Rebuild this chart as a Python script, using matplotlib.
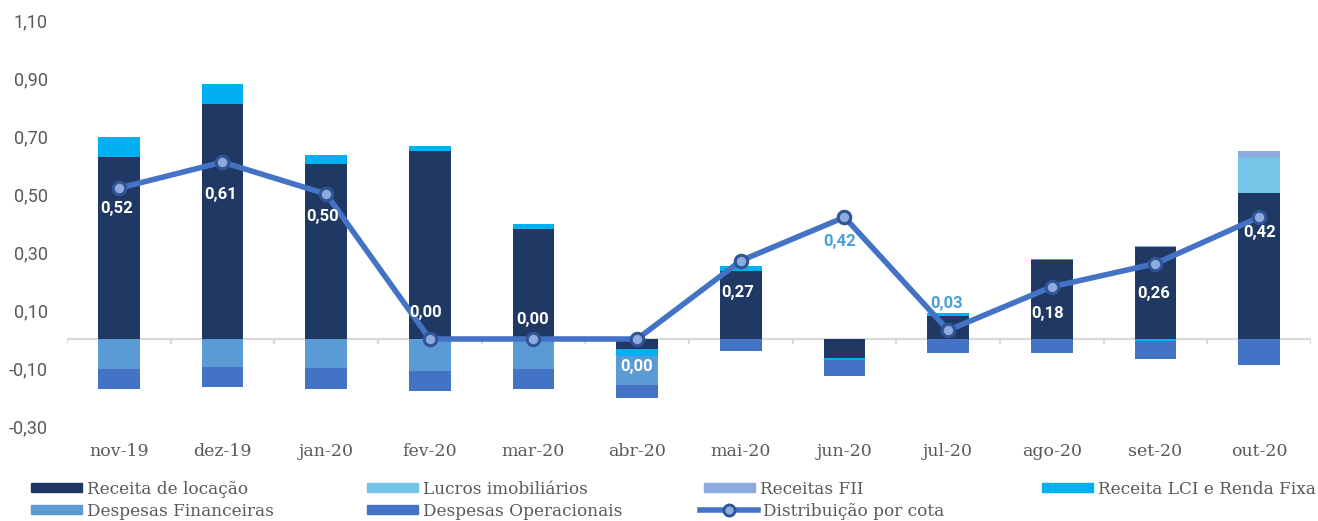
import numpy as np
import matplotlib
matplotlib.use("Agg")
import matplotlib.pyplot as plt
from matplotlib.patches import Patch
from matplotlib.lines import Line2D
from matplotlib.ticker import FuncFormatter

# dados (R$ por cota)
meses = ["nov-19", "dez-19", "jan-20", "fev-20", "mar-20", "abr-20",
         "mai-20", "jun-20", "jul-20", "ago-20", "set-20", "out-20"]
receita_locacao = [0.627, 0.812, 0.602, 0.647, 0.378, -0.036,
                   0.234, -0.065, 0.081, 0.273, 0.317, 0.503]
lucros_imobiliarios = [0, 0, 0, 0, 0, 0, 0, 0, 0, 0, 0, 0.124]
receitas_fii = [0, 0, 0, 0, 0, 0, 0, 0, 0, 0, 0.004, 0.022]
receita_lci = [0.068, 0.067, 0.034, 0.020, 0.019, -0.021,
               0.019, -0.007, 0.008, 0.004, -0.007, 0]
despesas_financeiras = [-0.105, -0.098, -0.101, -0.111, -0.105, -0.103,
                        0, 0, 0, 0, 0, 0]
despesas_operacionais = [-0.068, -0.067, -0.071, -0.067, -0.067, -0.045,
                         -0.040, -0.056, -0.048, -0.049, -0.061, -0.090]
distribuicao = [0.52, 0.61, 0.50, 0.00, 0.00, 0.00,
                0.27, 0.42, 0.03, 0.18, 0.26, 0.42]

series = [
    ("Receita de locação", receita_locacao, "#203864"),
    ("Lucros imobiliários", lucros_imobiliarios, "#75C5E6"),
    ("Receitas FII", receitas_fii, "#8FAADC"),
    ("Receita LCI e Renda Fixa", receita_lci, "#00B0F0"),
    ("Despesas Financeiras", despesas_financeiras, "#5B9BD5"),
    ("Despesas Operacionais", despesas_operacionais, "#4472C4"),
]

cinza = "#595959"
plt.rcParams["font.family"] = ["DejaVu Serif"]

W, H = 1318, 521
fig = plt.figure(figsize=(W / 100, H / 100), dpi=100)
ax = fig.add_axes([67 / W, 1 - 426 / H, (1311 - 67) / W, (426 - 20) / H])

x = np.arange(len(meses))
pos = np.zeros(len(meses))
neg = np.zeros(len(meses))
for nome, vals, cor in series:
    v = np.array(vals, dtype=float)
    base = np.where(v >= 0, pos, neg)
    ax.bar(x, v, 0.4, bottom=base, color=cor, linewidth=0, zorder=2)
    pos += np.clip(v, 0, None)
    neg += np.clip(v, None, 0)

# eixo horizontal no zero com marcas entre categorias
ax.axhline(0, color="#D9D9D9", lw=1.6, zorder=1)
ax.vlines(np.arange(-0.5, len(meses)), -0.018, 0, color="#D9D9D9", lw=1.6, zorder=1)

linha_cor = "#4472C4"
ax.plot(x, distribuicao, color=linha_cor, lw=4, marker="o", ms=9,
        mfc="#8FAADC", mec="#2F5597", mew=2.2, zorder=4)

# rótulos dos valores (deslocamento em pixels)
offsets = [(-2, -20), (-2, -32), (-4, -22), (-4, 27), (-1, 20), (-1, -27),
           (-3, -32), (-5, -24), (-2, 27), (-4, -27), (-2, -30), (0, -15)]
cores_rot = ["white"] * 12
cores_rot[7] = "#4A9FD8"
cores_rot[8] = "#4A9FD8"
for i, val in enumerate(distribuicao):
    ax.annotate(f"{val:.2f}".replace(".", ","), (x[i], val),
                xytext=offsets[i], textcoords="offset pixels",
                ha="center", va="center", color=cores_rot[i],
                fontsize=12, fontweight="bold", family="Roboto", zorder=5)

ax.set_xlim(-0.5, len(meses) - 0.5)
ax.set_ylim(-0.3, 1.1)
ax.set_yticks(np.arange(-0.3, 1.11, 0.2))
ax.yaxis.set_major_formatter(FuncFormatter(lambda v, p: f"{v:.2f}".replace(".", ",")))
ax.set_xticks(x, meses)
ax.tick_params(axis="both", length=0, colors=cinza)
ax.tick_params(axis="x", pad=12.5, labelsize=12.5)
ax.tick_params(axis="y", pad=14, labelsize=13, labelfontfamily="Roboto")
for s in ax.spines.values():
    s.set_visible(False)

# legenda montada entrada por entrada
entradas = [
    (series[0][0], Patch(color=series[0][2]), 31, 489),
    (series[1][0], Patch(color=series[1][2]), 367, 489),
    (series[2][0], Patch(color=series[2][2]), 704, 489),
    (series[3][0], Patch(color=series[3][2]), 1042, 489),
    (series[4][0], Patch(color=series[4][2]), 31, 511),
    (series[5][0], Patch(color=series[5][2]), 367, 511),
    ("Distribuição por cota",
     Line2D([], [], color=linha_cor, lw=4, marker="o", ms=8,
            mfc="#8FAADC", mec="#2F5597", mew=2), 700, 511),
]
for nome, h, px, py in entradas:
    comp = 3.4 if isinstance(h, Line2D) else 3.0
    fig.legend([h], [nome], loc="center left", bbox_to_anchor=(px / W, 1 - py / H),
               frameon=False, borderpad=0, borderaxespad=0, handlelength=comp,
               handleheight=0.42, handletextpad=0.3, fontsize=12.2, labelcolor=cinza)

fig.savefig("out.png", dpi=100)
